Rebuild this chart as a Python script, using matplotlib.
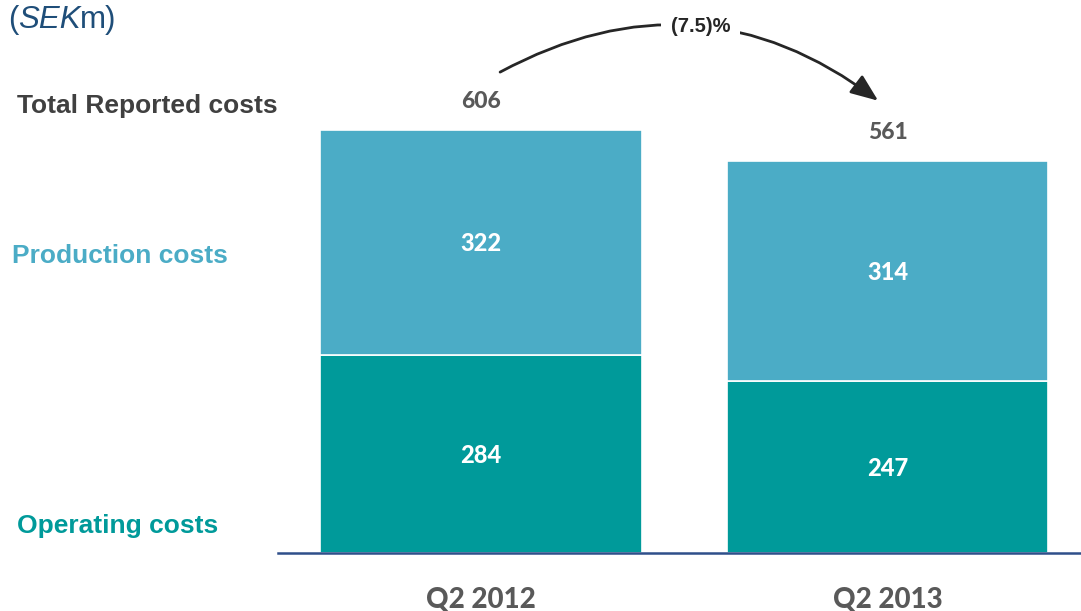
import matplotlib
matplotlib.use("Agg")
import matplotlib.pyplot as plt

periods = ["Q2 2012", "Q2 2013"]
operating = [284, 247]
production = [322, 314]
totals = [606, 561]
change_label = "(7.5)%"

C_OPER = "#009a9a"
C_PROD = "#4bacc6"
C_GREY = "#595959"
C_DARK = "#404040"
C_NAVY = "#1f4e79"

W, H = 1081, 611
fig = plt.figure(figsize=(W / 100, H / 100), dpi=100)
ax = fig.add_axes([278 / W, (H - 553) / H, 803 / W, 553 / H])

x = list(range(len(periods)))
bw = 0.792
ax.bar(x, operating, width=bw, color=C_OPER, edgecolor="white", linewidth=1.2)
ax.bar(x, production, width=bw, bottom=operating, color=C_PROD,
       edgecolor="white", linewidth=1.2)

ax.set_xlim(-0.4994, 1.476)
ax.set_ylim(0, 792.3)

for s in ["top", "right", "left"]:
    ax.spines[s].set_visible(False)
ax.spines["bottom"].set_color("#2f4f8a")
ax.spines["bottom"].set_linewidth(1.8)
ax.set_yticks([])
ax.set_xticks(x)
ax.set_xticklabels(periods, fontfamily="Lato", fontweight=900,
                   fontsize=20, color=C_GREY)
ax.tick_params(axis="x", length=0, pad=24)

# segment values and totals
for xi, op, pr, tot in zip(x, operating, production, totals):
    ax.text(xi, op / 2 - 3, f"{op}", ha="center", va="center", color="white",
            fontsize=17, fontweight=900, fontfamily="Lato")
    ax.text(xi, op + pr / 2 - 2, f"{pr}", ha="center", va="center", color="white",
            fontsize=17, fontweight=900, fontfamily="Lato")
    ax.text(xi, tot + 41, f"{tot}", ha="center", va="center", color=C_GREY,
            fontsize=16.5, fontweight=900, fontfamily="Lato")

# change arrow between totals
ax.annotate("", xy=(0.977, 648), xytext=(0.047, 689),
            arrowprops=dict(arrowstyle="-|>,head_length=0.6,head_width=0.24",
                            connectionstyle="arc3,rad=-0.32",
                            color="#262626", lw=2, mutation_scale=28,
                            shrinkA=0, shrinkB=0))
ax.text(0.540, 755, change_label, ha="center", va="center", color="#262626",
        fontsize=14.5, fontweight="bold", fontfamily="Liberation Sans",
        bbox=dict(boxstyle="square,pad=0.5", fc="white", ec="none"))

# row labels on the left
label_kw = dict(ha="left", va="center", fontsize=19, fontweight="bold",
                fontfamily="Liberation Sans")
fig.text(17 / W, 1 - 106 / H, "Total Reported costs", color=C_DARK, **label_kw)
fig.text(12 / W, 1 - 256 / H, "Production costs", color=C_PROD, **label_kw)
fig.text(17 / W, 1 - 526 / H, "Operating costs", color=C_OPER, **label_kw)

# unit label with italic currency code
renderer = fig.canvas.get_renderer()
parts = [("(", "normal", 0), ("SEK", "italic", -1), ("m)", "normal", 0)]
xpos = 8
for txt, style, adj in parts:
    t = fig.text(xpos / W, 1 - 20 / H, txt, ha="left", va="center",
                 color=C_NAVY, fontsize=22.5, fontstyle=style,
                 fontfamily="Liberation Sans")
    bb = t.get_window_extent(renderer=renderer)
    xpos = bb.x1 + adj

fig.savefig("out.png", dpi=100)
